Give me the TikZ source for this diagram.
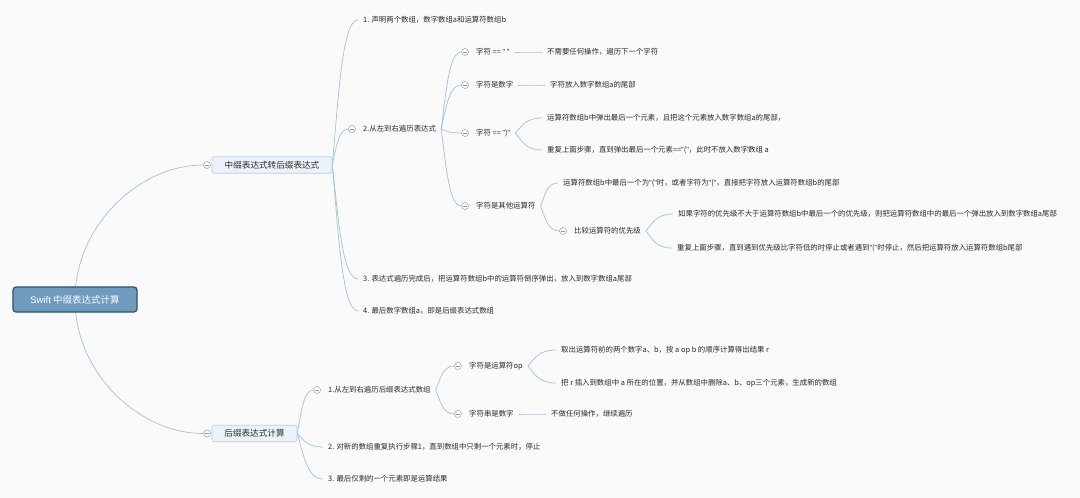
\documentclass[tikz,border=0pt]{standalone}
\usepackage{fontspec}
\setmainfont{Noto Sans CJK SC}
\newfontfamily\latf{Liberation Sans}
\newcommand{\qq}{{\latf"}}
\usetikzlibrary{calc,backgrounds}
\definecolor{bgc}{HTML}{FAFAFA}
\definecolor{linec}{HTML}{A3C2DA}
\definecolor{rootfill}{HTML}{6F9BBF}
\definecolor{rootdraw}{HTML}{33506A}
\definecolor{brfill}{HTML}{EBF2F9}
\definecolor{brdraw}{HTML}{B7CEE2}
\definecolor{circc}{HTML}{9A9A9A}
\definecolor{txtc}{HTML}{2A2A2A}
\begin{document}
\begin{tikzpicture}[x=1pt,y=-1pt,
  txt/.style={anchor=west,inner xsep=5pt,inner ysep=1pt,text=txtc,font=\fontsize{7.4}{9}\selectfont},
  rootbox/.style={draw=rootdraw,fill=rootfill,line width=1.2pt,rounded corners=3pt,text=white,
    minimum width=124pt,minimum height=25pt,inner sep=0pt,font=\fontsize{9.5}{11}\selectfont},
  brbox/.style={draw=brdraw,fill=brfill,line width=0.6pt,rounded corners=1.5pt,text=txtc,
    minimum height=16.5pt,inner sep=0pt,font=\fontsize{8.6}{10}\selectfont},
  cc/.style={circle,draw=circc,fill=white,line width=0.5pt,minimum size=7pt,inner sep=0pt,
    path picture={\draw[circc,line width=0.5pt] ([xshift=-2pt]path picture bounding box.center) -- ([xshift=2pt]path picture bounding box.center);}},
  edge/.style={draw=linec,line width=0.7pt},
  mm/.style={to path={let \p1=(\tikztostart), \p2=(\tikztotarget) in
    .. controls ({\x1+0.25*(\x2-\x1)},{\y1+0.5*(\y2-\y1)}) and ({\x1+0.4*(\x2-\x1)},\y2) .. (\tikztotarget)}},
  rootcurve/.style={to path={let \p1=(\tikztostart), \p2=(\tikztotarget) in
    .. controls (\x1,{\y1+0.55*(\y2-\y1)}) and ({\x1+0.5*(\x2-\x1)},\y2) .. (\tikztotarget)}}
]
\useasboundingbox (0,0) rectangle (1080,498);

% root
\node[rootbox] (root) at (75,299.5) {{\latf Swift} 中缀表达式计算};

% main branches
\node[brbox,minimum width=120pt] (b1) at (272,165) {中缀表达式转后缀表达式};
\node[cc] (b1c) at (207,165) {};
\node[brbox,minimum width=85pt] (b2) at (254.5,433.5) {后缀表达式计算};
\node[cc] (b2c) at (207,433.5) {};

% branch 1 children
\node[txt] (t1) at (358,20) {1. 声明两个数组，数字数组a和运算符数组b};
\node[cc] (t2c) at (352,129) {};
\node[txt] (t2) at (358,129) {2.从左到右遍历表达式};
\node[txt] (t3) at (358,279) {3. 表达式遍历完成后，把运算符数组b中的运算符倒序弹出，放入到数字数组a尾部};
\node[txt] (t4) at (358,311) {4. 最后数字数组a，即是后缀表达式数组};

% level 2 under t2
\node[cc] (s1c) at (465,52) {};
\node[txt] (s1) at (471,52) {字符 == \qq\ \qq};
\node[txt] (s1a) at (542,52) {不需要任何操作，遍历下一个字符};
\node[cc] (s2c) at (465,85) {};
\node[txt] (s2) at (471,85) {字符是数字};
\node[txt] (s2a) at (545,85) {字符放入数字数组a的尾部};
\node[cc] (s3c) at (465,133) {};
\node[txt] (s3) at (471,133) {字符 == \qq)\qq};
\node[txt] (s3a) at (542,118) {运算符数组b中弹出最后一个元素，且把这个元素放入数字数组a的尾部，};
\node[txt] (s3b) at (542,150) {重复上面步骤，直到弹出最后一个元素==\qq(\qq，此时不放入数字数组 a};
\node[cc] (s4c) at (465,206) {};
\node[txt] (s4) at (471,206) {字符是其他运算符};
\node[txt] (s4a) at (558,183) {运算符数组b中最后一个为\qq(\qq 时，或者字符为\qq(\qq，直接把字符放入运算符数组b的尾部};
\node[cc] (s4bc) at (563,231) {};
\node[txt] (s4b) at (569,231) {比较运算符的优先级};
\node[txt] (s4b1) at (673,214) {如果字符的优先级不大于运算符数组b中最后一个的优先级，则把运算符数组中的最后一个弹出放入到数字数组a尾部};
\node[txt] (s4b2) at (672,248) {重复上面步骤，直到遇到优先级比字符低的时停止或者遇到\qq(\qq 时停止，然后把运算符放入运算符数组b尾部};

% branch 2 children
\node[cc] (u1c) at (317,390) {};
\node[txt] (u1) at (323,390) {1.从左到右遍历后缀表达式数组};
\node[cc] (u1ac) at (458,366) {};
\node[txt] (u1a) at (464,366) {字符是运算符op};
\node[txt] (u1a1) at (556,350) {取出运算符前的两个数字a、b，按 a op b 的顺序计算得出结果 r};
\node[txt] (u1a2) at (556,383) {把 r 插入到数组中 a 所在的位置，并从数组中删除a、b、op三个元素，生成新的数组};
\node[cc] (u1bc) at (458,414) {};
\node[txt] (u1b) at (464,414) {字符串是数字};
\node[txt] (u1b1) at (546,414) {不做任何操作，继续遍历};
\node[txt] (u2) at (323,447) {2. 对新的数组重复执行步骤1，直到数组中只剩一个元素时，停止};
\node[txt] (u3) at (323,479) {3. 最后仅剩的一个元素即是运算结果};

\begin{scope}[on background layer]
  \fill[bgc] (0,0) rectangle (1080,498);
  % root to branches
  \draw[edge] (root.center) to[rootcurve] (b1c.west);
  \draw[edge] (root.center) to[rootcurve] (b2c.west);
  % branch 1
  \draw[edge] (b1.east) to[mm] (t1.west);
  \draw[edge] (b1.east) to[mm] (t2c.west);
  \draw[edge] (b1.east) to[mm] (t3.west);
  \draw[edge] (b1.east) to[mm] (t4.west);
  % t2 children
  \draw[edge] (t2.east) to[mm] (s1c.west);
  \draw[edge] (t2.east) to[mm] (s2c.west);
  \draw[edge] (t2.east) to[mm] (s3c.west);
  \draw[edge] (t2.east) to[mm] (s4c.west);
  \draw[edge] (s1.east) to[mm] (s1a.west);
  \draw[edge] (s2.east) to[mm] (s2a.west);
  \draw[edge] (s3.east) to[mm] (s3a.west);
  \draw[edge] (s3.east) to[mm] (s3b.west);
  \draw[edge] (s4.east) to[mm] (s4a.west);
  \draw[edge] (s4.east) to[mm] (s4bc.west);
  \draw[edge] (s4b.east) to[mm] (s4b1.west);
  \draw[edge] (s4b.east) to[mm] (s4b2.west);
  % branch 2
  \draw[edge] (b2.east) to[mm] (u1c.west);
  \draw[edge] (b2.east) to[mm] (u2.west);
  \draw[edge] (b2.east) to[mm] (u3.west);
  \draw[edge] (u1.east) to[mm] (u1ac.west);
  \draw[edge] (u1.east) to[mm] (u1bc.west);
  \draw[edge] (u1a.east) to[mm] (u1a1.west);
  \draw[edge] (u1a.east) to[mm] (u1a2.west);
  \draw[edge] (u1b.east) to[mm] (u1b1.west);
\end{scope}
\end{tikzpicture}
\end{document}
